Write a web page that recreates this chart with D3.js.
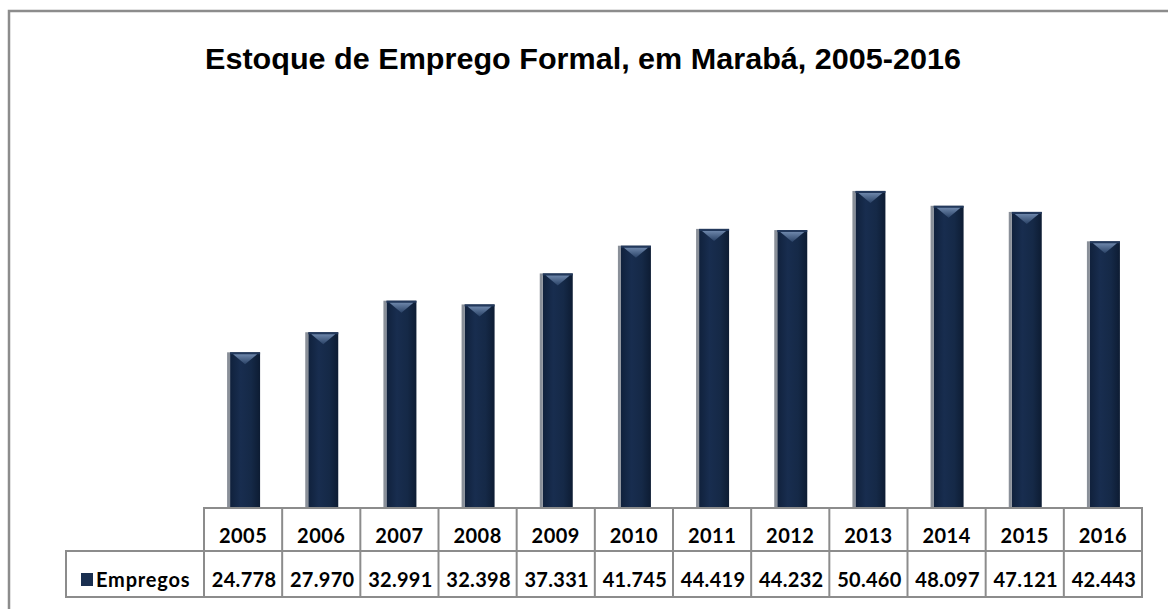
<!DOCTYPE html>
<html>
<head>
<meta charset="utf-8">
<script src="https://cdn.jsdelivr.net/npm/d3@7"></script>
<style>
  body { margin: 0; background: #fff; }
  svg { display: block; }
</style>
</head>
<body>
<div id="chart"></div>
<script>
// dados
var anos = ["2005", "2006", "2007", "2008", "2009", "2010", "2011", "2012", "2013", "2014", "2015", "2016"];
var empregos = [24778, 27970, 32991, 32398, 37331, 41745, 44419, 44232, 50460, 48097, 47121, 42443];
var serieNome = "Empregos";
var titulo = "Estoque de Emprego Formal, em Marabá, 2005-2016";

var width = 1168, height = 609;
var fmt = d3.formatLocale({decimal: ",", thousands: ".", grouping: [3]}).format(",d");

var svg = d3.select("#chart").append("svg")
  .attr("width", width)
  .attr("height", height);

var defs = svg.append("defs");
var grad = defs.append("linearGradient").attr("id", "barGrad")
  .attr("x1", "0%").attr("x2", "100%").attr("y1", "0%").attr("y2", "0%");
grad.append("stop").attr("offset", "0%").attr("stop-color", "#10213c");
grad.append("stop").attr("offset", "35%").attr("stop-color", "#182d4f");
grad.append("stop").attr("offset", "70%").attr("stop-color", "#152947");
grad.append("stop").attr("offset", "100%").attr("stop-color", "#0d1c33");

var capGrad = defs.append("linearGradient").attr("id", "capGrad")
  .attr("x1", "0%").attr("x2", "0%").attr("y1", "0%").attr("y2", "100%");
capGrad.append("stop").attr("offset", "0%").attr("stop-color", "#6d86aa");
capGrad.append("stop").attr("offset", "100%").attr("stop-color", "#2a4266");

// moldura externa
svg.append("rect")
  .attr("x", 9).attr("y", 11)
  .attr("width", width + 20).attr("height", height + 20)
  .attr("fill", "none")
  .attr("stroke", "#8c8c8c")
  .attr("stroke-width", 2.5);

// titulo
svg.append("text")
  .attr("x", 583).attr("y", 69)
  .attr("text-anchor", "middle")
  .attr("textLength", 756)
  .attr("lengthAdjust", "spacingAndGlyphs")
  .style("font-family", "'Liberation Sans Narrow', 'Arial Narrow', 'Liberation Sans', sans-serif")
  .style("font-weight", "bold")
  .style("font-size", "30px")
  .text(titulo);

// escalas
var tableLeft = 204, tableRight = 1142;
var x = d3.scaleBand()
  .domain(anos)
  .range([tableLeft, tableRight])
  .paddingInner(0)
  .paddingOuter(0);

var y = d3.scaleLinear()
  .domain([0, 60000])
  .range([508, 131]);

var barW = 30;

// barras
var bars = svg.append("g").selectAll("g")
  .data(anos.map(function(a, i) { return {ano: a, v: empregos[i]}; }))
  .join("g")
  .attr("transform", function(d) { return "translate(" + (x(d.ano) + x.bandwidth() / 2 - barW / 2 + 2) + ",0)"; });

bars.append("rect")
  .attr("x", 0).attr("width", barW)
  .attr("y", function(d) { return y(d.v); })
  .attr("height", function(d) { return y(0) - y(d.v); })
  .attr("fill", "url(#barGrad)");

bars.append("rect")
  .attr("x", -3).attr("width", 3)
  .attr("y", function(d) { return y(d.v); })
  .attr("height", function(d) { return y(0) - y(d.v); })
  .attr("fill", "#8a9099");

bars.append("rect")
  .attr("x", 0).attr("width", barW)
  .attr("y", function(d) { return y(d.v); })
  .attr("height", 2)
  .attr("fill", "#23395c");

bars.append("path")
  .attr("d", function(d) {
    var t = y(d.v) + 2;
    return "M3," + t + "L" + (barW - 3) + "," + t + "L" + (barW / 2) + "," + (t + 10) + "Z";
  })
  .attr("fill", "url(#capGrad)");

// tabela de dados
var row1Top = 508, row1Bot = 551, row2Bot = 597, labelLeft = 66;
var tbl = svg.append("g")
  .attr("fill", "none")
  .attr("stroke", "#8c8c8c")
  .attr("stroke-width", 2);

tbl.append("rect")
  .attr("x", tableLeft).attr("y", row1Top)
  .attr("width", tableRight - tableLeft).attr("height", row1Bot - row1Top)
  .attr("fill", "#fff");
tbl.append("rect")
  .attr("x", labelLeft).attr("y", row1Bot)
  .attr("width", tableRight - labelLeft).attr("height", row2Bot - row1Bot)
  .attr("fill", "#fff");
tbl.selectAll("line.sep")
  .data(anos)
  .join("line")
  .attr("class", "sep")
  .attr("x1", function(d) { return x(d); })
  .attr("x2", function(d) { return x(d); })
  .attr("y1", row1Top).attr("y2", row2Bot);

var tfont = "Lato, 'Open Sans', sans-serif";

svg.append("g").selectAll("text")
  .data(anos)
  .join("text")
  .attr("x", function(d) { return x(d) + x.bandwidth() / 2; })
  .attr("y", 543)
  .attr("text-anchor", "middle")
  .style("font-family", tfont)
  .style("font-weight", "bold")
  .style("font-size", "20px")
  .style("letter-spacing", "0.5px")
  .text(function(d) { return d; });

svg.append("g").selectAll("text")
  .data(empregos)
  .join("text")
  .attr("x", function(d, i) { return x(anos[i]) + x.bandwidth() / 2 + 1; })
  .attr("y", 587)
  .attr("text-anchor", "middle")
  .style("font-family", tfont)
  .style("font-weight", "bold")
  .style("font-size", "20px")
  .style("letter-spacing", "0.3px")
  .text(function(d) { return fmt(d); });

// legenda na tabela
svg.append("rect")
  .attr("x", 81).attr("y", 573)
  .attr("width", 12).attr("height", 13)
  .attr("fill", "#1a2f50");

svg.append("text")
  .attr("x", 96).attr("y", 587)
  .style("font-family", tfont)
  .style("font-weight", "bold")
  .style("font-size", "20px")
  .style("letter-spacing", "0.8px")
  .text(serieNome);
</script>
</body>
</html>
